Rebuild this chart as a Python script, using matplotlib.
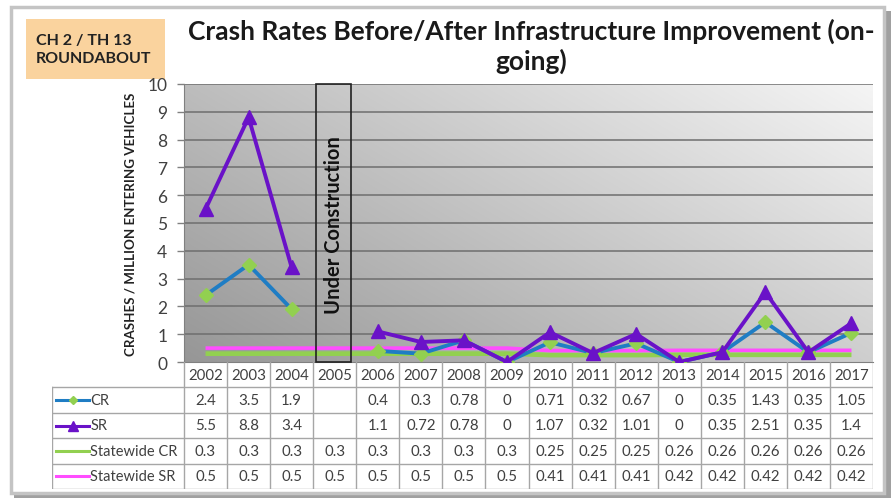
import numpy as np
import matplotlib
matplotlib.use("Agg")
import matplotlib.pyplot as plt
from matplotlib.patches import Rectangle

plt.rcParams['font.family'] = ['Lato', 'DejaVu Sans']

years = ['2002', '2003', '2004', '2005', '2006', '2007', '2008', '2009', '2010',
         '2011', '2012', '2013', '2014', '2015', '2016', '2017']
cr = [2.4, 3.5, 1.9, None, 0.4, 0.3, 0.78, 0, 0.71, 0.32, 0.67, 0, 0.35, 1.43, 0.35, 1.05]
sr = [5.5, 8.8, 3.4, None, 1.1, 0.72, 0.78, 0, 1.07, 0.32, 1.01, 0, 0.35, 2.51, 0.35, 1.4]
state_cr = [0.3, 0.3, 0.3, 0.3, 0.3, 0.3, 0.3, 0.3, 0.25, 0.25, 0.25, 0.26, 0.26, 0.26, 0.26, 0.26]
state_sr = [0.5, 0.5, 0.5, 0.5, 0.5, 0.5, 0.5, 0.5, 0.41, 0.41, 0.41, 0.42, 0.42, 0.42, 0.42, 0.42]
series_names = ['CR', 'SR', 'Statewide CR', 'Statewide SR']
title = 'Crash Rates Before/After Infrastructure Improvement (on-\ngoing)'
box_label = 'CH 2 / TH 13\nROUNDABOUT'
ylabel = 'CRASHES / MILLION ENTERING VEHICLES'
construction_label = 'Under Construction'
construction_year = '2005'

W, H = 895, 502
fig = plt.figure(figsize=(W / 100, H / 100), dpi=100)
fig.patch.set_facecolor('white')


def fx(px):
    return px / W


def fy(py):
    return 1 - py / H


# outer frame with shadow
fig.patches.append(Rectangle((fx(14), fy(499)), fx(891) - fx(14), fy(12) - fy(499),
                             transform=fig.transFigure, facecolor='#A0A0A0',
                             edgecolor='none', zorder=-3))
fig.patches.append(Rectangle((fx(11), fy(494)), fx(884) - fx(11), fy(8) - fy(494),
                             transform=fig.transFigure, facecolor='white',
                             edgecolor='#C4C4C4', linewidth=2.5, zorder=-2))

# main axes
L, R, T, B = 184, 873, 85, 363
ax = fig.add_axes([fx(L), fy(B), fx(R) - fx(L), fy(T) - fy(B)])
ax.set_zorder(2)
x = np.arange(len(years))
ax.set_xlim(-0.5, len(years) - 0.5)
ax.set_ylim(0, 10)

# gradient background
gx = np.linspace(0, 1, 200)
gy = np.linspace(0, 1, 100)
GX, GY = np.meshgrid(gx, gy)
V = np.clip(0.59 + 0.22 * GX + 0.15 * GY, 0, 1)
ax.imshow(np.dstack([V, V, V]), extent=(-0.5, len(years) - 0.5, 0, 10),
          origin='lower', aspect='auto', zorder=0, interpolation='bilinear')

ax.set_yticks(np.arange(0, 11, 1))
for yv in range(1, 11):
    ax.axhline(yv, color='#6E6E6E', lw=1.1, zorder=1)
ax.tick_params(axis='y', length=5, width=1, color='#808080', labelsize=12.5,
               labelcolor='#404040', pad=7)
ax.set_xticks([])
for s in ['top', 'right']:
    ax.spines[s].set_visible(False)
ax.spines['left'].set_color('#808080')
ax.spines['bottom'].set_color('#808080')

cr_arr = np.array([np.nan if v is None else v for v in cr], dtype=float)
sr_arr = np.array([np.nan if v is None else v for v in sr], dtype=float)

ax.plot(x, state_cr, color='#92D050', lw=3.4, zorder=3, solid_capstyle='butt')
ax.plot(x, state_sr, color='#FF4DFF', lw=2.6, zorder=3, solid_capstyle='butt')
ax.plot(x, cr_arr, color='#1F7DC4', lw=2.8, zorder=4, marker='D', ms=7,
        mfc='#92D050', mec='#92D050')
ax.plot(x, sr_arr, color='#6A12C8', lw=2.8, zorder=5, marker='^', ms=10.5,
        mfc='#6A12C8', mec='#6A12C8')

# under construction box
ci = years.index(construction_year)
ax.add_patch(Rectangle((ci - 0.43, 0), 0.81, 10, facecolor='none', edgecolor='#222222',
                       lw=1.2, zorder=6, clip_on=False))
ax.text(ci - 0.02, 8.15, construction_label, rotation=90, ha='center', va='top',
        fontsize=14.5, fontweight='bold', color='#111111', zorder=7)

ax.set_ylabel(ylabel, fontsize=9.6, fontweight='bold', color='#222222', labelpad=8)

# table axes
TL, TB = 52, 490
tax = fig.add_axes([fx(TL), fy(TB), fx(R) - fx(TL), fy(B) - fy(TB)])
tax.set_zorder(2)
upx = (R - L) / len(years)
xleft = -0.5 - (L - TL) / upx
tax.set_xlim(xleft, len(years) - 0.5)
tax.set_ylim(5, 0)
tax.axis('off')
gc = '#A6A6A6'
for k in range(len(years) + 1):
    tax.plot([k - 0.5, k - 0.5], [0, 5], color=gc, lw=1)
tax.plot([xleft, xleft], [1, 5], color=gc, lw=1)
for r in range(1, 6):
    tax.plot([xleft, len(years) - 0.5], [r, r], color=gc, lw=1)
for i, yr in enumerate(years):
    tax.text(i, 0.5, yr, ha='center', va='center', fontsize=10.8, color='#404040')

rows = [cr, sr, state_cr, state_sr]
for r, vals in enumerate(rows):
    for i, v in enumerate(vals):
        if v is None:
            continue
        tax.text(i, r + 1.5, f'{v:g}', ha='center', va='center', fontsize=10.8,
                 color='#404040')

# legend keys
lx0 = xleft + 4 / upx
lx1 = xleft + 37 / upx
lxm = (lx0 + lx1) / 2
styles = [
    dict(color='#1F7DC4', lw=2.2, marker='D', ms=4.5, mfc='#92D050', mec='#92D050'),
    dict(color='#6A12C8', lw=2.2, marker='^', ms=7, mfc='#6A12C8', mec='#6A12C8'),
    dict(color='#92D050', lw=2.2),
    dict(color='#FF4DFF', lw=2.2),
]
for r, (name, st) in enumerate(zip(series_names, styles)):
    yy = r + 1.5
    mk = st.pop('marker', None)
    ms = st.pop('ms', None)
    mfc = st.pop('mfc', None)
    mec = st.pop('mec', None)
    tax.plot([lx0, lx1], [yy, yy], **st)
    if mk:
        tax.plot([lxm], [yy], marker=mk, ms=ms, mfc=mfc, mec=mec, ls='none')
    tax.text(lx1 + 1.5 / upx, yy, name, ha='left', va='center', fontsize=10.5,
             color='#404040')

# orange label box
fig.patches.append(Rectangle((fx(26), fy(80)), fx(165) - fx(26), fy(20) - fy(80),
                             transform=fig.transFigure, facecolor='#FAD39E',
                             edgecolor='none', zorder=-1))
fig.text(fx(36), fy(50), box_label, ha='left', va='center', fontsize=11.5,
         fontweight='bold', color='#222222', linespacing=1.45)

# title
fig.text(fx(531), fy(46), title, ha='center', va='center', fontsize=19,
         fontweight='bold', color='#1A1A1A', linespacing=1.22)

fig.savefig('out.png', dpi=100)
